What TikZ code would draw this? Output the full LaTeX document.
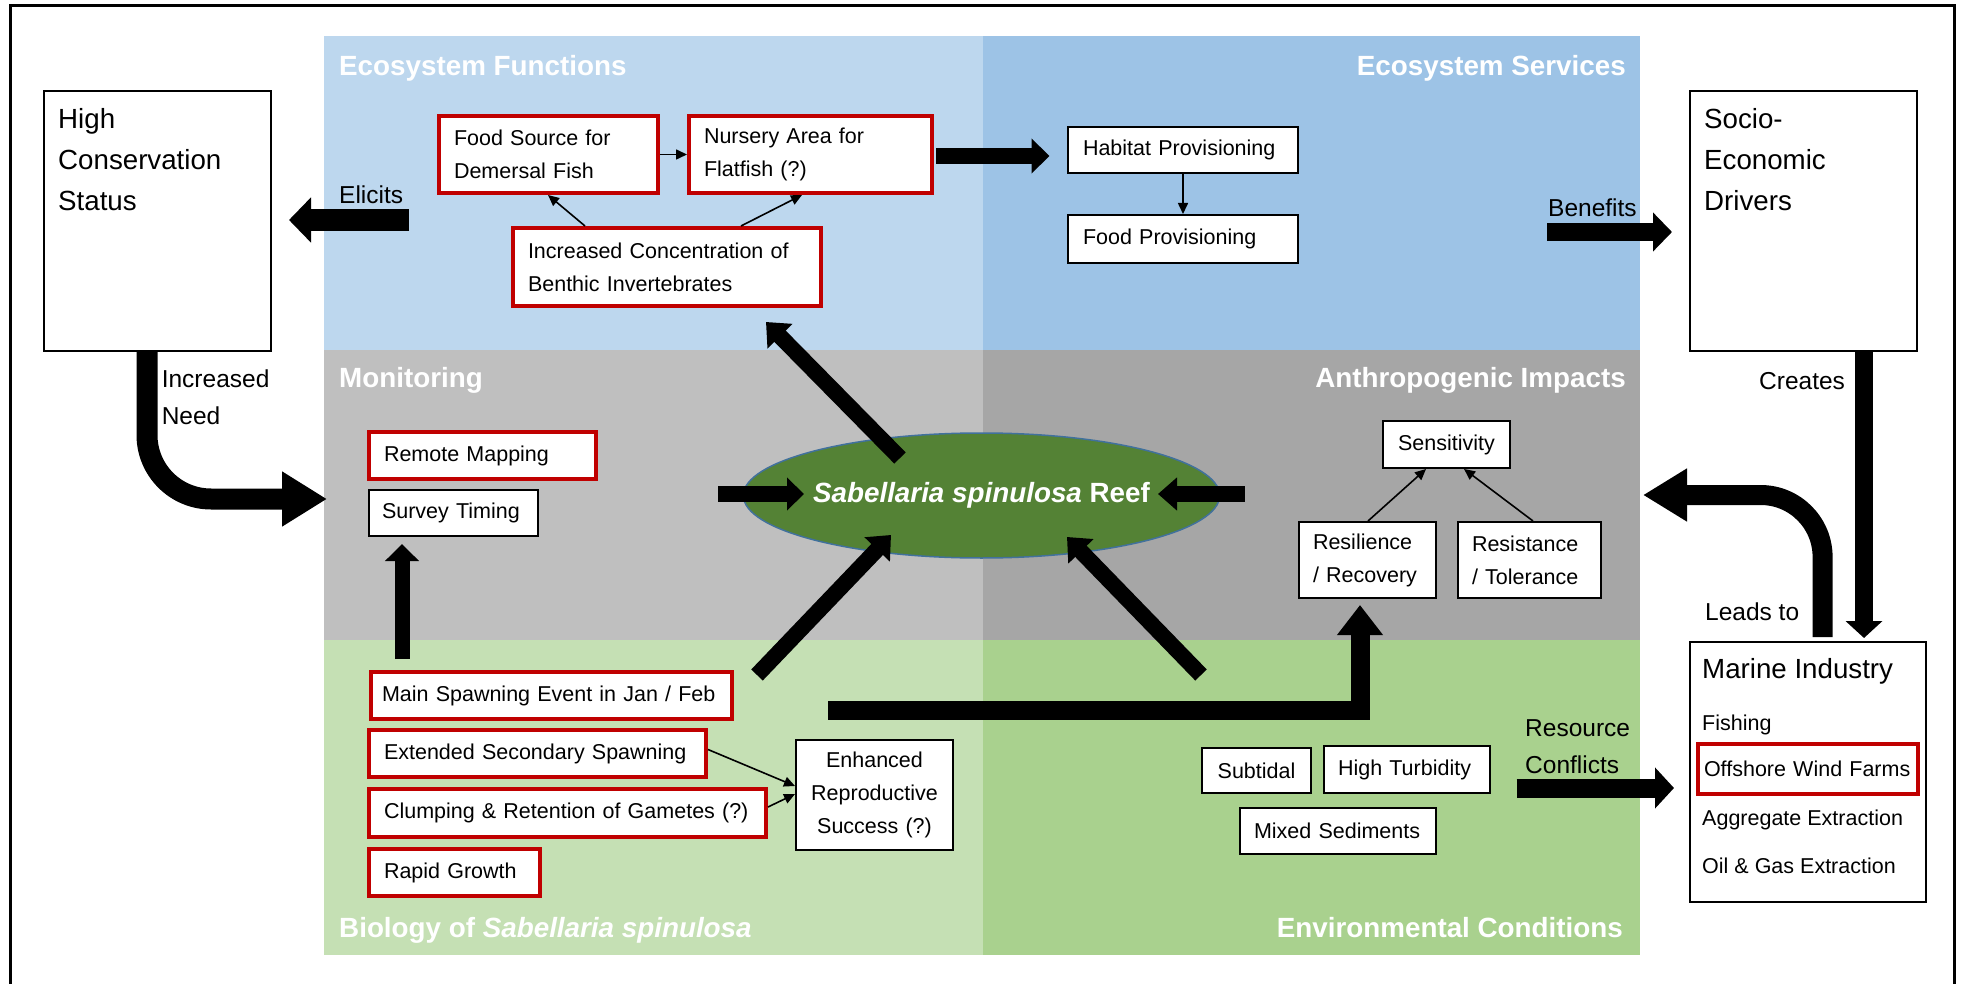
\documentclass[tikz,border=0pt]{standalone}
\usepackage{fontspec}
\setmainfont{Liberation Sans}
\usetikzlibrary{arrows.meta,shapes.geometric,calc}
\definecolor{efun}{HTML}{BDD7EE}
\definecolor{eser}{HTML}{9DC3E6}
\definecolor{moni}{HTML}{BFBFBF}
\definecolor{anth}{HTML}{A6A6A6}
\definecolor{biol}{HTML}{C5E0B4}
\definecolor{envi}{HTML}{A9D18E}
\definecolor{reefc}{HTML}{548235}
\definecolor{reefb}{HTML}{41719C}
\definecolor{redc}{HTML}{C00000}
\newcommand\fsBox{\fontsize{21.5pt}{33pt}\selectfont}
\newcommand\fsBig{\fontsize{27.7pt}{41pt}\selectfont}
\newcommand\fsLab{\fontsize{24.5pt}{37pt}\selectfont}
\newcommand\fsTitle{\fontsize{27.8pt}{33pt}\selectfont\bfseries}
\begin{document}
\begin{tikzpicture}[x=1pt,y=-1pt,
  bx/.style={draw=black, line width=2pt, fill=white, inner xsep=15pt, inner ysep=0pt, align=left, font=\fsBox, anchor=north west},
  rbx/.style={bx, draw=redc, line width=4pt},
  cbx/.style={bx, align=center},
  bigbox/.style={draw=black, line width=2pt, fill=white, inner sep=0pt, anchor=north west},
  ttl/.style={font=\fsTitle, text=white, inner sep=0pt},
  lab/.style={font=\fsLab, inner sep=0pt},
  itm/.style={font=\fsBox, inner sep=0pt, anchor=base west},
  thinarrow/.style={line width=1.6pt, -{Triangle[length=11pt,width=10pt]}},
]
\useasboundingbox (0,0) rectangle (1963,984);
% frame
\draw[line width=3pt] (10,984) -- (10,6) -- (1954,6) -- (1954,984);
% panels
\fill[efun] (323.7,36) rectangle (982.6,350);
\fill[eser] (982.6,36) rectangle (1640,350);
\fill[moni] (323.7,350) rectangle (982.6,640);
\fill[anth] (982.6,350) rectangle (1640,640);
\fill[biol] (323.7,640) rectangle (982.6,955);
\fill[envi] (982.6,640) rectangle (1640,955);
% titles
\node[ttl, anchor=base west] (tEF) at (339,76) {Ecosystem Functions};
\node[ttl, anchor=base east] (tES) at (1626,76) {Ecosystem Services};
\node[ttl, anchor=base west] (tMo) at (339,388) {Monitoring};
\node[ttl, anchor=base east] (tAI) at (1626,388) {Anthropogenic Impacts};
\node[ttl, anchor=base west] (tBi) at (339,937) {Biology of \textit{Sabellaria spinulosa}};
\node[ttl, anchor=base east] (tEC) at (1623,937) {Environmental Conditions};
% big side boxes
\node[bigbox, minimum width=227pt, minimum height=260pt] (hcs) at (43,90) {};
\node[font=\fsBig, align=left, anchor=north west, inner sep=0pt] (hcsT) at (58,108) {High\\Conservation\\Status};
\node[bigbox, minimum width=227pt, minimum height=260pt] (sed) at (1689,90) {};
\node[font=\fsBig, align=left, anchor=north west, inner sep=0pt] (sedT) at (1704,108) {Socio-\\Economic\\Drivers};
\node[bigbox, minimum width=236pt, minimum height=260pt] (mi) at (1689,641) {};
\node[font=\fsBig, inner sep=0pt, anchor=base west] (miT) at (1702,678) {Marine Industry};
\node[itm] (fish) at (1702,730) {Fishing};
\node[rbx, inner xsep=6pt, text width=208pt, minimum height=50pt] (owf) at (1696,742) {Offshore Wind Farms};
\node[itm] (aggr) at (1702,825) {Aggregate Extraction};
\node[itm] (oilg) at (1702,873) {Oil \& Gas Extraction};
% ecosystem functions
\node[rbx, text width=189pt, minimum height=77pt] (food) at (437,114) {Food Source for\\Demersal Fish};
\node[rbx, text width=213pt, minimum height=77pt] (nurs) at (687,114) {Nursery Area for\\Flatfish (?)};
\node[rbx, text width=278pt, minimum height=78pt] (conc) at (511,226) {Increased Concentration of\\Benthic Invertebrates};
% ecosystem services
\node[bx, text width=200pt, minimum height=46pt] (hab) at (1067,126) {Habitat Provisioning};
\node[bx, text width=200pt, minimum height=48pt] (foodp) at (1067,214) {Food Provisioning};
% monitoring
\node[rbx, text width=197pt, minimum height=47pt] (remote) at (367,430) {Remote Mapping};
\node[bx, inner xsep=13pt, text width=143pt, minimum height=46pt] (survey) at (368,489) {Survey Timing};
% anthropogenic
\node[cbx, inner xsep=10pt, text width=107pt, minimum height=47pt] (sens) at (1382,420) {Sensitivity};
\node[bx, inner xsep=14pt, text width=109pt, minimum height=76pt] (resil) at (1298,521) {Resilience\\/ Recovery};
\node[bx, inner xsep=14pt, text width=115pt, minimum height=76pt] (resist) at (1457,521) {Resistance\\/ Tolerance};
% biology
\node[rbx, inner xsep=11pt, text width=339pt, minimum height=47pt] (main) at (369,670) {\mbox{Main Spawning Event in Jan / Feb}};
\node[rbx, text width=307pt, minimum height=47pt] (ext) at (367,728) {Extended Secondary Spawning};
\node[rbx, text width=367pt, minimum height=48pt] (clump) at (367,787) {Clumping \& Retention of Gametes (?)};
\node[rbx, text width=141pt, minimum height=47pt] (rapid) at (367,847) {Rapid Growth};
\node[cbx, inner xsep=8pt, text width=141pt, minimum height=110pt] (enh) at (795,739) {Enhanced\\Reproductive\\Success (?)};
% environmental
\node[cbx, inner xsep=8pt, text width=93pt, minimum height=45pt] (sub) at (1201,747) {Subtidal};
\node[bx, inner xsep=14pt, text width=138pt, minimum height=47pt] (turb) at (1323,745) {High Turbidity};
\node[bx, inner xsep=14pt, text width=168pt, minimum height=46pt] (mixed) at (1239,807) {Mixed Sediments};
% reef
\node[ellipse, fill=reefc, draw=reefb, line width=1.5pt, minimum width=391pt, minimum height=125pt, inner sep=0pt, font=\fsTitle, text=white] (reef) at (981.5,495.5) {\textit{Sabellaria spinulosa} Reef};
% labels
\node[lab, anchor=base west] (lEli) at (339,204) {Elicits};
\node[lab, anchor=base west] (lBen) at (1548,217) {Benefits};
\node[lab, anchor=north west, align=left] (lNeed) at (161.6,370) {Increased\\Need};
\node[lab, anchor=base west] (lCre) at (1759,389) {Creates};
\node[lab, anchor=base west] (lLead) at (1705,620) {Leads to};
\node[lab, anchor=north west, align=left] (lRes) at (1525,719.5) {Resource\\Conflicts};
% coordinates for fat arrows
\coordinate (eliS) at (409,220); \coordinate (eliE) at (289,220);
\coordinate (benS) at (1547,232); \coordinate (benE) at (1672,232);
\coordinate (nhS) at (936,156); \coordinate (nhE) at (1049.5,156);
\coordinate (needS) at (147,352); \coordinate (needE) at (327,499);
\coordinate (leadS) at (1822.6,637); \coordinate (leadE) at (1643,495);
\coordinate (creS) at (1864,352); \coordinate (creE) at (1864,638);
\coordinate (rcS) at (1516.5,788); \coordinate (rcE) at (1674,788);
\coordinate (svS) at (402,659); \coordinate (svE) at (402,544);
\coordinate (rlS) at (718,494); \coordinate (rlE) at (804,494);
\coordinate (rrS) at (1244.6,494); \coordinate (rrE) at (1158,494);
\coordinate (tlS) at (900,458); \coordinate (tlE) at (766,322);
\coordinate (blS) at (757,675); \coordinate (blE) at (891,535);
\coordinate (brS) at (1201,675); \coordinate (brE) at (1067,537);
\coordinate (lS) at (828,710.5); \coordinate (lC) at (1360,710.5); \coordinate (lE) at (1360,605);
% fat arrows
\draw[line width=22pt, -{Triangle[length=22pt,width=44pt]}] (eliS) -- (eliE);
\draw[line width=18pt, -{Triangle[length=19pt,width=38pt]}] (benS) -- (benE);
\draw[line width=16pt, -{Triangle[length=18pt,width=34pt]}] (nhS) -- (nhE);
\draw[line width=21pt, rounded corners=64pt, -{Triangle[length=45pt,width=52pt]}] (needS) |- (needE);
\draw[line width=20pt, rounded corners=62pt, -{Triangle[length=44pt,width=50pt]}] (leadS) |- (leadE);
\draw[line width=18pt, -{Triangle[length=17pt,width=36pt]}] (creS) -- (creE);
\draw[line width=19pt, -{Triangle[length=19pt,width=40pt]}] (rcS) -- (rcE);
\draw[line width=15pt, -{Triangle[length=17pt,width=33pt]}] (svS) -- (svE);
\draw[line width=16pt, -{Triangle[length=17pt,width=32pt]}] (rlS) -- (rlE);
\draw[line width=16pt, -{Triangle[length=19pt,width=32pt]}] (rrS) -- (rrE);
\draw[line width=16pt, -{Triangle[length=20pt,width=34pt]}] (tlS) -- (tlE);
\draw[line width=16pt, -{Triangle[length=20pt,width=34pt]}] (blS) -- (blE);
\draw[line width=16pt, -{Triangle[length=20pt,width=34pt]}] (brS) -- (brE);
\draw[line width=19pt, -{Triangle[length=30pt,width=44pt]}] (lS) -- (lC) -- (lE);
% thin arrows
\draw[thinarrow] (food.east) -- (nurs.west);
\draw[thinarrow] ([xshift=74pt]conc.north west) -- ([xshift=111pt]food.south west);
\draw[thinarrow] ([xshift=230pt]conc.north west) -- ([xshift=115pt]nurs.south west);
\draw[thinarrow] (hab.south) -- (foodp.north);
\draw[thinarrow] ([xshift=70pt]resil.north west) -- ([xshift=44pt]sens.south west);
\draw[thinarrow] ([xshift=76pt]resist.north west) -- ([xshift=82pt]sens.south west);
\draw[thinarrow] ([yshift=4pt]ext.east) -- ([yshift=9pt]enh.west);
\draw[thinarrow] ([yshift=6pt]clump.east) -- ([yshift=1pt]enh.west);
\end{tikzpicture}
\end{document}
